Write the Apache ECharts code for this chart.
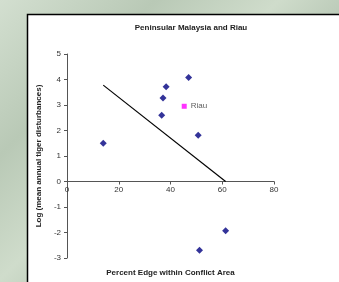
<!DOCTYPE html>
<html><head><meta charset="utf-8">
<script src="https://cdn.jsdelivr.net/npm/echarts@6/dist/echarts.min.js"></script>
<style>
html,body{margin:0;padding:0;width:339px;height:282px;overflow:hidden;
background:linear-gradient(135deg,#d3dfd0 0%,#b9c9b6 25%,#cfdccb 45%,#aebfac 65%,#c9d6c6 85%,#b3c4b0 100%);}
#c{width:339px;height:282px;}
</style></head><body>
<div id="c"></div>
<script>
const titleText = "Peninsular Malaysia and Riau";
const xName = "Percent Edge within Conflict Area";
const yName = "Log (mean annual tiger disturbances)";
const malaysiaX = [14, 36.6, 37.1, 38.3, 47, 50.7, 51.2, 61.3];
const malaysiaY = [1.5, 2.6, 3.27, 3.72, 4.08, 1.81, -2.7, -1.93];
const riauX = [45.3];
const riauY = [2.95];
const riauLabel = "Riau";
const trendX = [14, 61.3];
const trendY = [3.78, 0];
const xTicks = [0, 20, 40, 60, 80];
const yTicks = [-3, -2, -1, 0, 1, 2, 3, 4, 5];

const gridTop = 54, gridBottom = 24, H = 282;
const plotH = H - gridTop - gridBottom;
const yMin = yTicks[0], yMax = yTicks[yTicks.length-1];
const zeroOffset = -plotH * (0 - yMin) / (yMax - yMin);

const chart = echarts.init(document.getElementById('c'), null, {renderer:'canvas'});
const zip = (a,b)=>a.map((v,i)=>[v,b[i]]);
const axisFont = {fontFamily:'Liberation Sans, Arial, sans-serif', fontSize:8, color:'#333'};
chart.setOption({
  backgroundColor:'transparent',
  animation:false,
  graphic:[{type:'rect', z:-10, shape:{x:27.5,y:14.5,width:330,height:280},
    style:{fill:'#fff', stroke:'#000', lineWidth:1.5}}],
  title:{text:titleText, left:186, top:19, textAlign:'center',
    textStyle:{fontFamily:'Liberation Sans, Arial, sans-serif', fontSize:8, fontWeight:'bold', color:'#222'}},
  grid:{left:67, right:65, top:gridTop, bottom:gridBottom, containLabel:false, outerBoundsMode:'none'},
  xAxis:{type:'value', min:xTicks[0], max:xTicks[xTicks.length-1], interval:20,
    position:'bottom', offset:zeroOffset,
    splitLine:{show:false},
    axisLine:{onZero:false, lineStyle:{color:'#555', width:1}},
    axisTick:{show:true, length:3, lineStyle:{color:'#555'}},
    axisLabel:{...axisFont, margin:4},
    name:xName, nameLocation:'middle', nameGap:87,
    nameTextStyle:{fontFamily:'Liberation Sans, Arial, sans-serif', fontSize:8, fontWeight:'bold', color:'#222'}},
  yAxis:{type:'value', min:yMin, max:yMax, interval:1,
    splitLine:{show:false},
    axisLine:{show:true, onZero:false, lineStyle:{color:'#555', width:1}},
    axisTick:{show:true, length:3, lineStyle:{color:'#555'}},
    axisLabel:{...axisFont, margin:6},
    name:yName, nameLocation:'middle', nameGap:17, nameRotate:90,
    nameTextStyle:{fontFamily:'Liberation Sans, Arial, sans-serif', fontSize:8, fontWeight:'bold', color:'#222'}},
  series:[
    {type:'line', data:zip(trendX,trendY), symbol:'none', lineStyle:{color:'#000', width:1.2}, z:1},
    {type:'scatter', data:zip(malaysiaX,malaysiaY), symbol:'diamond', symbolSize:7, itemStyle:{color:'#000080'}, z:3},
    {type:'scatter', data:zip(riauX,riauY), symbol:'rect', symbolSize:5, itemStyle:{color:'#ff00ff'}, z:3,
      label:{show:true, position:'right', distance:4, formatter:riauLabel, fontFamily:'Liberation Sans, Arial, sans-serif', fontSize:8, color:'#333'}}
  ]
});
</script>
</body></html>
